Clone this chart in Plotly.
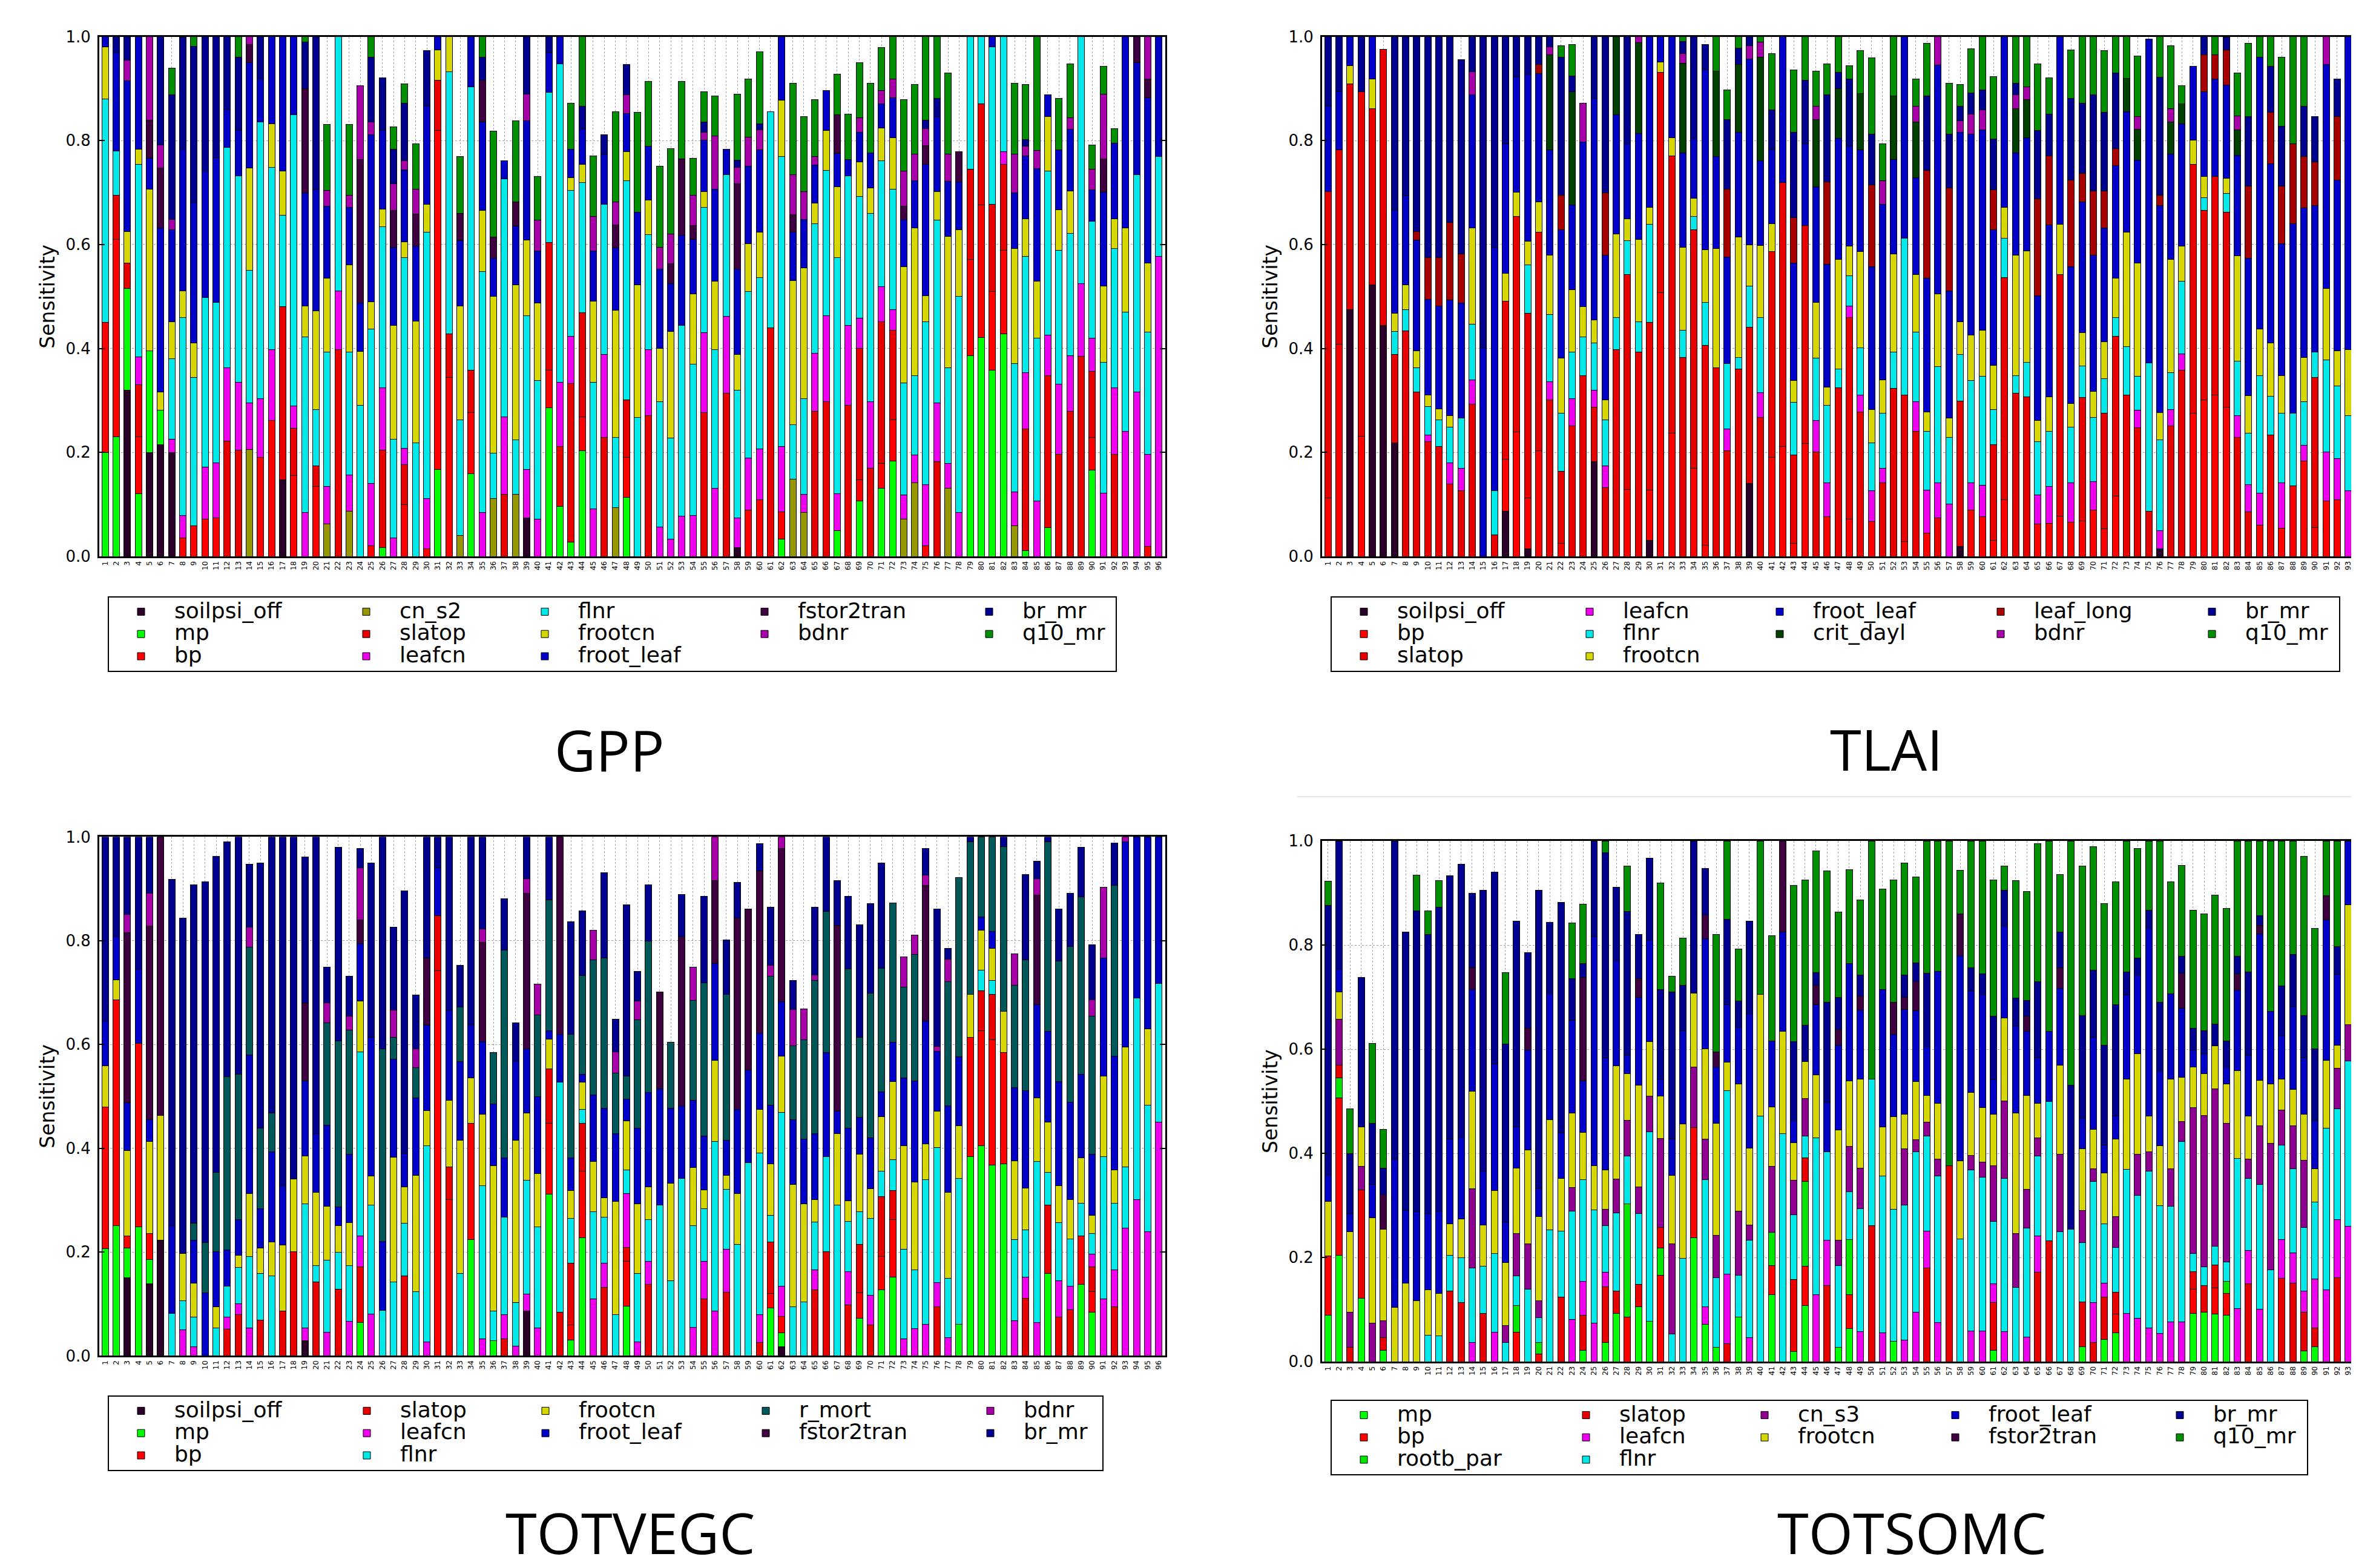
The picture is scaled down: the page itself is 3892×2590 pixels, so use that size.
import plotly.graph_objects as go

W, H = 3892, 2590
FONT = "DejaVu Sans"

SITES_LEFT = list(range(1, 97))
SITES_RIGHT = list(range(1, 95))

# ---------------- GPP (sites 1-96) ----------------
gpp_soilpsi_off = [
    0, 0, .32, 0, .20, .215, .20, 0, 0, 0, 0, 0,
    0, 0, 0, 0, .147, 0, 0, 0, 0, 0, 0, 0,
    0, 0, 0, 0, 0, 0, 0, 0, 0, 0, 0, 0,
    0, 0, .074, 0, 0, 0, 0, 0, 0, 0, 0, 0,
    0, 0, 0, 0, 0, 0, 0, 0, 0, .017, 0, 0,
    0, 0, 0, 0, 0, 0, 0, 0, 0, 0, 0, 0,
    0, 0, 0, 0, 0, 0, 0, 0, 0, 0, 0, 0,
    0, 0, 0, 0, 0, 0, 0, 0, 0, 0, 0, 0]
gpp_mp = [
    .20, .23, .195, .12, .196, .066, 0, 0, 0, 0, 0, 0,
    0, 0, 0, 0, 0, 0, 0, 0, 0, 0, 0, 0,
    0, .017, 0, 0, 0, 0, .167, 0, 0, .159, 0, 0,
    0, 0, 0, 0, .286, .096, .027, .203, 0, 0, 0, .114,
    0, 0, 0, 0, 0, 0, 0, 0, 0, 0, 0, 0,
    0, .033, 0, 0, 0, 0, .049, 0, .107, 0, .131, .184,
    0, 0, 0, 0, 0, 0, .386, .421, .358, .428, 0, .011,
    0, .055, 0, 0, 0, .166, 0, 0, 0, 0, 0, 0]
gpp_bp = [
    .25, .38, 0, .11, 0, 0, 0, .035, .059, .072, .074, 0,
    0, 0, .19, .261, 0, .156, 0, .134, 0, 0, 0, 0,
    .02, 0, 0, .10, 0, .015, .652, .344, 0, .118, 0, 0,
    0, 0, 0, 0, .072, 0, 0, .066, 0, 0, 0, .076,
    0, 0, 0, 0, 0, 0, 0, 0, 0, 0, .089, .109,
    0, .053, 0, 0, 0, 0, 0, 0, .04, 0, .048, .079,
    0, 0, .02, 0, 0, 0, .186, .255, .152, .161, 0, 0,
    0, 0, 0, 0, 0, .063, 0, 0, 0, 0, .019, 0]
gpp_cn_s2 = [
    0, 0, 0, 0, 0, 0, 0, 0, 0, 0, 0, 0,
    0, .206, 0, 0, 0, 0, 0, 0, .062, 0, .087, 0,
    0, 0, 0, 0, 0, 0, 0, 0, .04, 0, 0, .111,
    0, .119, 0, 0, 0, 0, 0, 0, 0, 0, .094, 0,
    0, 0, 0, 0, 0, 0, 0, 0, 0, 0, 0, 0,
    0, 0, .149, .084, 0, 0, 0, 0, 0, 0, 0, 0,
    .072, .142, 0, 0, .131, 0, 0, 0, 0, 0, .059, 0,
    0, 0, 0, 0, 0, 0, 0, 0, 0, 0, 0, 0]
gpp_slatop = [
    0, .085, .05, .10, 0, 0, 0, 0, 0, 0, 0, .222,
    .204, 0, 0, 0, .334, .09, 0, .04, 0, .398, 0, 0,
    0, .187, 0, .077, 0, 0, .097, .084, 0, .081, 0, 0,
    .119, 0, 0, 0, .246, .115, .306, .20, 0, .229, 0, .111,
    0, .271, 0, 0, 0, 0, .277, 0, .314, 0, 0, 0,
    .44, 0, 0, 0, .279, .298, 0, .291, .253, .17, .273, .172,
    0, 0, 0, .182, 0, 0, .173, .195, .167, .165, 0, .234,
    0, .293, .196, .279, .385, .127, 0, .196, 0, 0, 0, 0]
gpp_leafcn = [
    0, 0, 0, .054, 0, 0, .026, .044, 0, .10, .106, .141,
    .131, .089, .114, .137, 0, .043, .084, 0, .072, .113, .07, 0,
    .12, .121, .035, .031, 0, .096, 0, 0, 0, 0, .084, 0,
    .15, 0, .093, .072, 0, .124, .091, 0, .092, .159, 0, 0,
    0, .127, .057, .033, .077, .079, .153, .131, .148, .057, .10, .098,
    0, .125, 0, .035, .112, .165, .071, .154, .058, .128, .067, .04,
    .046, .053, .118, .113, .048, .084, 0, 0, 0, .025, .065, .108,
    .107, .078, .136, .107, .14, .064, .122, .128, .241, .316, .177, .577]
gpp_flnr = [
    .43, .085, 0, .37, 0, 0, .154, .38, .285, .326, .309, .424,
    .397, .255, .532, .351, .175, .561, .338, .109, .259, .489, .236, .291,
    .297, .309, .191, .367, .219, .513, 0, .505, .223, .546, .464, .088,
    .457, .105, .296, .266, .289, .613, .28, .25, .243, .29, .135, .422,
    .267, .221, .241, .195, .368, .291, .242, .267, .272, .246, .321, .33,
    .416, .558, .104, .184, .249, .28, .455, .287, .234, .362, .242, .232,
    .216, .153, .314, .352, .184, .416, .255, .129, .303, .221, .247, .224,
    .313, .316, .257, .236, .475, .225, .251, .268, .229, .418, .236, .192]
gpp_frootcn = [
    .10, 0, .06, .03, .31, .035, .072, .052, .067, 0, 0, 0,
    0, .197, 0, .083, .085, 0, .06, .189, .142, 0, .168, .103,
    .053, .034, .219, .03, .234, .053, .059, .067, .219, 0, .118, .301,
    0, .299, .146, .149, 0, 0, .025, .035, .156, 0, .244, .056,
    .255, .067, .102, .205, 0, .135, .03, .132, 0, .068, .092, .087,
    0, .109, .278, .252, .04, .077, .136, 0, .067, .049, .063, .099,
    .224, .284, .049, .055, .253, .128, 0, 0, 0, 0, .221, .073,
    .109, .104, .078, .081, 0, 0, .147, .058, .162, 0, .132, 0]
gpp_froot_leaf = [
    .02, .19, .29, .217, .06, .316, .176, .272, .27, .243, .278, .073,
    .088, .203, .082, .168, .259, .15, .217, .235, .139, 0, .111, .094,
    .321, .151, .15, .139, .144, .189, .025, 0, .126, .096, .17, .074,
    .035, .113, .229, .101, .076, .052, .055, .068, .097, .095, .121, .073,
    .14, .103, .153, .092, .173, .105, .099, .177, .05, .165, .149, .158,
    0, .122, .093, .093, .073, .076, .064, .032, .057, .068, .047, .077,
    .09, .091, .253, .144, .106, .093, 0, 0, .02, 0, .107, .121,
    .217, .042, .115, .119, 0, .06, .181, .145, .368, .216, .318, .231]
gpp_fstor2tran = [
    0, 0, 0, 0, .073, .115, 0, 0, 0, 0, 0, 0,
    0, .035, 0, 0, 0, 0, .201, 0, 0, 0, 0, .276,
    0, 0, .071, 0, .062, 0, 0, 0, .052, 0, .08, .04,
    0, .046, 0, 0, 0, 0, 0, 0, 0, 0, .044, 0,
    0, 0, 0, .038, .147, .027, 0, 0, 0, .164, 0, 0,
    0, 0, .034, 0, 0, 0, .075, 0, 0, 0, 0, 0,
    .026, 0, .037, 0, 0, .058, 0, 0, 0, 0, 0, 0,
    0, 0, 0, 0, 0, 0, .064, 0, 0, .05, .036, 0]
gpp_bdnr = [
    0, 0, .04, 0, .164, .045, .02, 0, 0, 0, 0, 0,
    0, .015, 0, 0, 0, 0, 0, 0, .03, 0, .023, .142,
    .025, 0, .051, .017, .048, 0, 0, 0, 0, 0, 0, 0,
    0, 0, .051, .059, 0, 0, 0, 0, .066, 0, .044, .036,
    0, 0, .042, .057, 0, .058, .015, .102, 0, .032, .056, .039,
    0, 0, .077, .054, .016, 0, 0, 0, .028, 0, .025, .035,
    .067, .051, .032, 0, .052, 0, 0, 0, 0, 0, .075, .018,
    .035, 0, 0, .022, 0, .04, .124, 0, 0, 0, .082, 0]
gpp_br_mr = [
    0, .03, .045, 0, 0, .208, .24, .216, .30, .26, .233, .14,
    .141, 0, .082, 0, 0, 0, .09, .293, 0, 0, 0, 0,
    .124, .102, .067, .111, 0, .107, 0, 0, 0, 0, .045, 0,
    0, 0, .111, 0, .031, 0, 0, .044, 0, .038, 0, .059,
    0, 0, 0, 0, 0, 0, .02, 0, 0, .014, 0, .011,
    0, 0, 0, 0, 0, 0, 0, 0, 0, 0, 0, 0,
    0, 0, .016, .035, 0, 0, 0, 0, 0, 0, 0, .013,
    0, 0, 0, 0, 0, 0, 0, 0, 0, 0, 0, 0]
gpp_q10_mr = [
    0, 0, 0, 0, 0, 0, .052, 0, .02, 0, 0, 0,
    .039, 0, 0, 0, 0, 0, .01, 0, .127, 0, .136, 0,
    .04, 0, .042, .037, .087, 0, 0, 0, .109, 0, .039, .204,
    0, .156, 0, .084, 0, 0, .088, .134, .117, 0, .174, 0,
    .192, .125, .156, .165, .149, .071, .058, .077, 0, .127, .111, .139,
    0, 0, .175, .144, .11, 0, .078, .087, .106, .133, .083, .082,
    .138, .134, .161, .119, .156, 0, 0, 0, 0, 0, .137, .106,
    .219, 0, .099, .104, 0, .047, .054, .028, 0, 0, 0, 0]

# ---------------- TLAI (sites 1-94 visible) ----------------
tlai_soilpsi_off = [
    0, 0, .475, 0, .523, .445, .219, 0, 0, 0, 0, 0,
    0, 0, 0, 0, .087, 0, .015, 0, 0, 0, 0, 0,
    .182, 0, 0, 0, 0, .031, 0, 0, 0, 0, 0, 0,
    0, 0, .14, 0, 0, 0, 0, 0, 0, 0, 0, 0,
    0, 0, 0, 0, 0, 0, 0, 0, 0, .019, 0, 0,
    0, 0, 0, 0, 0, 0, 0, 0, 0, 0, 0, 0,
    0, 0, 0, .015, 0, 0, 0, 0, 0, 0, 0, 0,
    0, 0, 0, 0, 0, 0, 0, 0, 0, 0]
tlai_bp = [
    .112, .408, 0, .231, 0, 0, 0, 0, 0, 0, 0, 0,
    0, 0, 0, 0, .10, .239, .097, .203, 0, .025, 0, 0,
    0, 0, 0, .129, 0, .096, .507, .237, 0, .169, .022, 0,
    0, 0, 0, 0, .191, .211, .025, .217, 0, .076, 0, .072,
    0, .067, 0, 0, .029, 0, .045, 0, 0, 0, .089, .076,
    .031, .109, 0, 0, .062, .064, .078, .066, .068, .089, .053, .116,
    0, 0, 0, 0, 0, 0, .276, .301, .311, .287, 0, 0,
    .06, 0, .054, .136, .184, .055, .107, .109, 0, .05]
tlai_slatop = [
    .59, .374, .434, .663, .338, .531, .169, .434, .316, .221, .211, .139,
    .126, .293, 0, .041, .304, .415, .356, .421, .301, .139, .251, .348,
    .105, .132, .398, .413, .393, .323, .424, .534, .383, .46, .384, .363,
    .203, .36, .301, .267, .396, .508, .17, .42, .201, 0, .324, .387,
    .278, 0, .142, .323, .281, .241, 0, .074, 0, .28, 0, 0,
    .184, .428, .314, .307, 0, 0, .464, 0, .238, 0, .222, .308,
    .31, .248, .087, 0, .251, .358, .478, .365, .42, .375, .229, .086,
    0, .233, 0, 0, 0, .289, 0, 0, 0, 0]
tlai_leafcn = [
    0, 0, 0, 0, 0, 0, 0, 0, 0, .012, 0, .041,
    .043, .047, 0, 0, 0, 0, 0, 0, .035, 0, .052, 0,
    .033, .042, 0, 0, 0, 0, 0, 0, 0, 0, 0, 0,
    .042, 0, 0, .048, 0, 0, 0, 0, .06, .066, 0, .023,
    .033, .059, .027, 0, 0, .057, .082, .068, .101, 0, .052, .061,
    0, 0, 0, 0, .056, .07, 0, .076, 0, .055, 0, 0,
    0, .033, 0, .035, .032, .032, 0, 0, 0, 0, .042, .052,
    .062, 0, .087, 0, .03, 0, .094, .079, .126, .271]
tlai_flnr = [
    0, 0, 0, 0, 0, 0, .045, .041, .047, .055, .052, .069,
    .097, .107, 0, .085, 0, 0, .093, 0, .129, .111, .09, .074,
    .091, .089, .061, .066, .058, .189, 0, 0, .052, .025, .083, 0,
    .126, .023, .079, .145, 0, 0, .102, 0, .12, .149, .036, .058,
    .09, .092, .107, .07, .302, .134, .114, .223, .128, .089, .197, .209,
    .068, .075, .034, .066, .103, .107, 0, .107, .06, .123, .067, .036,
    .094, .065, .285, .174, .07, .139, 0, .024, 0, .036, .105, .099,
    .226, .075, .135, .14, .084, .049, .177, .14, .145, .354]
tlai_frootcn = [
    0, 0, .035, 0, .058, 0, .035, .047, .033, .023, .021, .022,
    0, .185, 0, 0, .054, .047, .045, .058, .114, .107, .12, .058,
    .044, .038, .161, .042, .159, .033, .02, .034, .16, .035, .101, .229,
    0, .231, .079, .138, .053, 0, .041, 0, .108, .035, .212, .057,
    .186, .065, .064, .189, 0, .11, .037, .14, .037, .063, .088, .089,
    .085, .06, .232, .215, .04, .066, .097, .045, .065, .051, .071, .075,
    .22, .219, 0, .053, .219, .068, .047, .041, 0, .03, .202, .072,
    .089, .103, .072, 0, .085, 0, .137, .068, .127, 0]
tlai_froot_leaf = [
    .164, .112, .056, 0, .081, 0, .199, .172, .213, .184, .198, .222,
    .222, .256, .401, .469, .249, .221, .322, .247, .203, .246, .163, .317,
    .426, .278, .23, .144, .204, .328, .049, .195, .182, .115, .346, .177,
    .205, .202, .358, .163, .142, .281, .227, .157, .222, .236, .232, .192,
    .195, .274, .338, .182, .388, .187, .257, .44, .245, .365, .386, .386,
    .261, .328, .197, .217, .24, .331, .361, .263, .251, .261, .219, .217,
    .232, .198, .623, .398, .202, .235, .142, .163, .187, .179, .194, .265,
    .524, .345, .254, .364, .287, .282, .431, .328, .602, .325]
tlai_crit_dayl = [
    0, 0, 0, 0, 0, 0, 0, 0, 0, 0, 0, 0,
    0, 0, 0, 0, 0, 0, 0, 0, .183, 0, .218, 0,
    0, 0, .15, 0, .175, 0, 0, 0, .172, 0, 0, .165,
    0, .13, 0, .2, 0, 0, 0, 0, .13, 0, .096, 0,
    .109, 0, 0, .122, 0, .107, 0, 0, 0, 0, 0, 0,
    0, 0, .085, .074, 0, 0, 0, 0, 0, 0, 0, 0,
    .064, .059, 0, 0, .062, .039, 0, 0, 0, 0, .049, 0,
    0, 0, 0, 0, 0, 0, 0, 0, 0, 0]
tlai_leaf_long = [
    0, 0, 0, 0, 0, 0, 0, 0, .016, .08, .093, .149,
    .094, 0, 0, 0, 0, 0, 0, .017, 0, .067, 0, 0,
    0, .12, 0, 0, 0, 0, 0, 0, 0, 0, 0, 0,
    .13, 0, 0, 0, 0, 0, .087, 0, 0, .159, 0, 0,
    0, .158, 0, 0, 0, 0, .208, 0, .198, 0, 0, 0,
    .076, 0, 0, 0, .187, .133, 0, .167, .055, .124, .071, .033,
    0, 0, 0, .02, 0, 0, 0, .071, .047, .068, 0, .138,
    0, .098, .11, .154, .099, .084, 0, .122, 0, 0]
tlai_bdnr = [
    0, 0, 0, 0, 0, 0, 0, 0, 0, 0, 0, 0,
    0, .045, 0, 0, 0, 0, 0, 0, .015, 0, 0, .075,
    0, 0, 0, 0, .011, 0, 0, 0, .018, 0, 0, 0,
    0, 0, .026, .029, 0, 0, 0, 0, .025, 0, 0, 0,
    0, 0, .045, 0, 0, .03, 0, .055, 0, .022, .039, .038,
    0, 0, .026, .025, 0, 0, 0, 0, 0, 0, 0, 0,
    0, .024, 0, 0, .026, 0, 0, 0, 0, 0, .027, 0,
    0, 0, 0, 0, 0, 0, .054, 0, 0, 0]
tlai_br_mr = [
    .134, .106, 0, .106, 0, 0, .333, .306, .375, .425, .425, .358,
    .374, .067, .599, .405, .206, .078, .072, .054, .02, .265, .03, 0,
    .119, .301, 0, .206, 0, 0, 0, 0, .024, .196, .049, 0,
    .135, .032, .017, 0, .077, 0, .164, .122, 0, .167, .031, .129,
    0, .097, 0, 0, 0, 0, .143, 0, .104, .028, .041, .039,
    .098, 0, .022, 0, .132, .08, 0, .157, .135, .185, .151, .145,
    0, 0, 0, .227, 0, 0, 0, .035, 0, .024, 0, .134,
    0, .089, .116, 0, .097, .087, 0, .072, 0, 0]
tlai_q10_mr = [
    0, 0, 0, 0, 0, 0, 0, 0, 0, 0, 0, 0,
    0, 0, 0, 0, 0, 0, 0, 0, 0, .023, .061, 0,
    0, 0, 0, 0, 0, 0, 0, 0, .009, 0, 0, .066,
    .057, .022, 0, .01, .108, 0, .12, .084, .068, .06, .069, .026,
    .082, .147, .071, .114, 0, .052, .101, 0, .097, .042, .085, .102,
    .12, 0, .09, .096, .128, .07, 0, .094, .128, .112, .119, .07,
    .08, .117, 0, .078, .121, .035, 0, 0, .035, 0, .082, .141,
    .039, .057, .133, .206, .134, 0, 0, 0, 0, 0]

# ---------------- TOTVEGC (sites 1-96) ----------------
tv_soilpsi_off = [
    0, 0, .15, 0, .139, .223, 0, 0, 0, 0, 0, 0,
    0, 0, 0, 0, 0, 0, .029, 0, 0, 0, 0, 0,
    0, 0, 0, 0, 0, 0, 0, 0, 0, 0, 0, 0,
    0, 0, .086, 0, 0, 0, 0, 0, 0, 0, 0, 0,
    0, 0, 0, 0, 0, 0, 0, 0, 0, 0, 0, 0,
    0, .017, 0, 0, 0, 0, 0, 0, 0, 0, 0, 0,
    0, 0, 0, 0, 0, 0, 0, 0, 0, 0, 0, 0,
    0, 0, 0, 0, 0, 0, 0, 0, 0, 0, 0, 0]
tv_mp = [
    .206, .251, .058, .249, .047, 0, 0, 0, 0, 0, 0, 0,
    0, 0, 0, 0, 0, 0, 0, 0, 0, 0, 0, .064,
    0, 0, 0, 0, 0, 0, 0, 0, 0, .224, 0, .029,
    0, 0, 0, 0, .311, 0, .03, .227, 0, 0, 0, .096,
    0, 0, 0, 0, 0, 0, 0, 0, 0, 0, 0, 0,
    .092, .027, 0, 0, 0, 0, 0, 0, .072, 0, .127, .151,
    0, 0, 0, 0, 0, .06, .384, .405, .368, .37, 0, 0,
    0, .158, 0, 0, .138, .084, 0, 0, 0, 0, 0, 0]
tv_bp = [
    .274, .435, .023, .353, .05, 0, 0, 0, 0, 0, 0, 0,
    0, 0, 0, 0, 0, 0, 0, 0, 0, 0, 0, 0,
    0, 0, 0, 0, 0, 0, .742, .301, 0, .224, 0, 0,
    0, 0, 0, 0, .137, 0, .029, .129, 0, 0, 0, .086,
    0, 0, 0, 0, 0, 0, 0, 0, 0, 0, 0, 0,
    .028, .032, 0, 0, 0, 0, 0, 0, .049, 0, .064, .112,
    0, 0, 0, 0, 0, 0, .23, .221, .241, .214, 0, 0,
    0, 0, 0, 0, .093, .04, 0, 0, 0, 0, 0, 0]
tv_slatop = [
    0, 0, 0, 0, 0, 0, 0, 0, 0, 0, 0, .051,
    .079, 0, .069, 0, .086, .201, 0, .142, 0, .128, 0, .107,
    0, 0, 0, .154, 0, 0, .106, .063, 0, 0, 0, 0,
    .032, 0, 0, 0, .105, .084, .12, .092, 0, .132, 0, .027,
    0, .137, 0, 0, 0, 0, .109, 0, .122, 0, 0, .025,
    .099, 0, 0, 0, .127, .201, 0, .098, .094, .059, .116, .055,
    0, 0, 0, .094, 0, 0, 0, .078, .087, 0, 0, .111,
    0, .133, .074, .089, 0, .047, 0, .094, 0, 0, 0, 0]
tv_leafcn = [
    0, 0, 0, 0, 0, 0, 0, .05, .017, 0, 0, .023,
    .021, .053, 0, 0, 0, 0, .025, 0, .045, 0, .066, .06,
    .08, 0, 0, 0, 0, .027, 0, 0, 0, 0, .032, 0,
    .047, .019, .033, .054, 0, 0, 0, 0, .109, .047, 0, .104,
    .027, .045, 0, 0, 0, .055, .073, .086, .083, 0, 0, .054,
    0, .058, 0, 0, .039, 0, 0, .064, 0, .057, 0, 0,
    .032, .052, .06, .047, .035, 0, 0, 0, 0, 0, .067, .041,
    .064, 0, .07, .045, 0, .025, .109, .072, .246, .301, .239, .45]
tv_flnr = [
    0, 0, 0, 0, 0, 0, .081, .056, .057, 0, .053, .06,
    .07, .138, .09, .154, 0, 0, .239, .032, .139, .071, .108, .355,
    .211, .087, .142, .101, .124, .378, 0, 0, .159, 0, .296, .057,
    .188, .083, .219, .195, 0, .443, .086, .027, .169, .088, .079, .045,
    .132, .081, .291, .144, .342, .196, .102, .327, .116, .215, .372, .312,
    .052, .335, .094, .104, .092, .183, .291, .097, .063, .149, .049, .06,
    .173, .114, .28, .26, .114, .282, 0, .039, .027, 0, .157, .091,
    .311, .062, .113, .091, .063, .04, .275, .128, .118, .388, .244, .267]
tv_frootcn = [
    .079, .038, .165, 0, .177, .24, 0, .091, .066, 0, .041, 0,
    .024, .122, .049, .065, .127, .14, .092, .141, .104, .052, .083, .098,
    .055, 0, .241, .071, .224, .067, 0, .128, .256, .087, .137, .28,
    0, .313, .13, .102, .057, 0, .053, .052, .097, .038, .219, .095,
    .134, .062, 0, .189, 0, .112, .036, .156, .027, .098, 0, .084,
    .099, .108, .236, .189, .043, 0, .137, .04, .11, .057, .105, .151,
    .2, .169, .068, .07, .166, .101, .083, .077, .062, .08, .152, .08,
    .122, .097, .071, .076, .087, .035, .155, .064, .231, 0, .147, 0]
tv_froot_leaf = [
    .086, .085, .092, .143, .042, 0, .17, 0, .083, .121, .107, .07,
    .069, .267, .076, .174, .115, 0, .145, .113, .157, .036, .131, .11,
    .268, .134, .189, .064, .149, .165, .092, .174, .152, .103, .141, .119,
    .115, .153, .124, .148, .017, .093, .063, .016, .128, .172, .13, .042,
    .146, .182, .224, .144, .14, .129, .103, .187, .067, .162, .179, .147,
    .113, .105, .125, .125, .127, .2, .043, .14, .072, .098, .048, .075,
    .13, .195, .237, .116, .167, .133, 0, .026, .033, 0, .141, .188,
    .18, .175, .2, .188, .161, .117, .228, .22, .396, .311, .37, .283]
tv_r_mort = [
    0, 0, 0, 0, 0, 0, 0, 0, .032, .097, .152, .334,
    .28, .207, .155, .075, 0, 0, 0, 0, .197, .32, .24, 0,
    0, .371, .042, 0, .058, 0, 0, 0, .105, 0, 0, .099,
    .4, 0, 0, .158, .252, 0, .239, .19, .26, .29, .117, .044,
    .208, .292, 0, .127, 0, .193, .296, 0, .282, 0, 0, 0,
    .248, 0, .142, .191, .295, .272, 0, .307, .154, .279, .238, .269,
    .176, .243, 0, 0, .239, .346, .294, .154, .182, .317, .197, .252,
    0, .366, .233, .3, .342, .266, 0, .328, 0, 0, 0, 0]
tv_fstor2tran = [
    0, 0, .328, 0, .373, .537, 0, 0, 0, 0, 0, 0,
    0, 0, 0, 0, 0, 0, .15, 0, 0, 0, 0, .046,
    0, 0, 0, 0, 0, .13, 0, 0, 0, 0, .191, 0,
    0, 0, .299, 0, 0, .38, 0, 0, 0, 0, 0, 0,
    0, 0, .186, 0, .325, 0, 0, .16, 0, .368, .31, .312,
    0, .296, 0, 0, 0, 0, .359, 0, 0, 0, 0, 0,
    0, 0, .261, 0, 0, 0, 0, 0, 0, 0, 0, 0,
    .211, 0, 0, 0, 0, 0, 0, 0, 0, 0, 0, 0]
tv_bdnr = [
    0, 0, .034, 0, .063, 0, 0, 0, 0, 0, 0, 0,
    0, .039, 0, 0, 0, 0, 0, 0, .038, 0, .026, .1,
    0, 0, .052, 0, .037, 0, 0, 0, 0, 0, .026, 0,
    0, 0, .028, .059, 0, 0, 0, 0, .057, 0, .041, 0,
    .037, 0, 0, 0, 0, .064, 0, .084, 0, 0, 0, 0,
    .022, .022, .07, .059, .011, 0, 0, 0, 0, 0, 0, 0,
    .058, .038, .02, .009, .043, 0, 0, 0, 0, 0, .061, 0,
    .031, 0, 0, 0, 0, .032, .136, 0, .009, 0, 0, 0]
tv_br_mr = [
    .355, .191, .15, .255, .109, 0, .667, .646, .653, .695, .61, .452,
    .457, .121, .511, .532, .672, .659, .281, .572, .069, .373, .077, .038,
    .336, .408, .16, .506, .103, .233, .06, .334, .08, .362, .177, 0,
    .099, .074, .081, 0, .121, 0, .216, .125, 0, .164, .063, .33,
    .057, .109, 0, 0, .082, 0, .167, 0, .105, .069, 0, .053,
    .111, 0, .056, 0, .13, .144, .086, .14, .217, .172, .203, 0,
    0, 0, .052, .265, .021, 0, .009, 0, 0, .019, 0, .165,
    .034, .009, .1, .102, .096, .106, 0, .082, 0, 0, 0, 0]

# ---------------- TOTSOMC (sites 1-94 visible) ----------------
ts_mp = [
    .089, .204, 0, .122, 0, .022, 0, 0, 0, 0, 0, 0,
    0, 0, 0, 0, 0, 0, 0, 0, 0, 0, 0, .021,
    0, .037, .092, 0, .105, .077, 0, 0, 0, .238, .072, .027,
    0, .085, 0, 0, .128, 0, .019, .107, 0, 0, .027, .063,
    0, 0, 0, .039, 0, 0, 0, 0, 0, 0, 0, 0,
    .022, 0, 0, 0, 0, 0, 0, 0, .029, 0, .043, .055,
    0, 0, 0, 0, 0, 0, .092, .095, .091, .089, 0, 0,
    0, 0, 0, 0, .02, .029, 0, 0, 0, 0]
ts_bp = [
    .114, .302, 0, 0, 0, 0, 0, 0, 0, 0, 0, 0,
    0, 0, 0, 0, 0, .056, 0, .015, 0, 0, 0, 0,
    0, 0, 0, .085, 0, 0, .166, 0, 0, .212, 0, 0,
    0, 0, 0, 0, .056, 0, 0, .076, 0, 0, 0, .066,
    0, 0, 0, 0, 0, 0, 0, 0, 0, 0, 0, 0,
    0, 0, 0, 0, 0, 0, 0, 0, 0, 0, 0, .036,
    0, 0, 0, 0, 0, 0, .047, 0, .05, .042, 0, 0,
    0, 0, 0, 0, 0, 0, 0, 0, 0, 0]
ts_rootb_par = [
    0, .039, 0, 0, 0, 0, 0, 0, 0, 0, 0, 0,
    0, 0, 0, 0, 0, .051, 0, .022, 0, 0, 0, 0,
    0, 0, 0, .218, 0, 0, .052, 0, 0, 0, 0, 0,
    0, 0, 0, 0, .064, 0, 0, .163, 0, 0, 0, .105,
    0, 0, 0, 0, 0, 0, 0, 0, 0, 0, 0, 0,
    0, 0, 0, 0, 0, 0, 0, 0, 0, 0, 0, 0,
    0, 0, 0, 0, 0, 0, 0, 0, 0, .023, 0, 0,
    0, 0, 0, 0, 0, 0, 0, 0, 0, 0]
ts_slatop = [
    0, .024, .027, .208, 0, .024, 0, 0, 0, 0, 0, .136,
    .113, 0, .093, 0, 0, 0, 0, 0, 0, .124, 0, .068,
    0, .107, .044, 0, .043, 0, .04, 0, 0, 0, 0, 0,
    .034, 0, 0, 0, 0, 0, .139, .045, 0, .146, 0, 0,
    0, .261, 0, 0, 0, 0, .18, 0, .376, 0, 0, 0,
    .091, 0, 0, 0, .172, .232, 0, 0, .085, .037, .081, .042,
    0, 0, 0, 0, 0, 0, .034, .051, .045, 0, 0, .149,
    0, 0, .16, .151, .075, .036, 0, .161, 0, 0]
ts_leafcn = [
    0, 0, 0, 0, 0, 0, 0, 0, 0, 0, 0, 0,
    0, .037, 0, .056, 0, 0, 0, 0, 0, 0, .081, .065,
    .074, .028, 0, 0, 0, 0, 0, 0, 0, 0, .033, 0,
    .134, 0, .046, 0, 0, 0, 0, 0, .128, .087, 0, 0,
    .057, 0, .055, 0, .041, .095, .071, .075, 0, 0, .059, .059,
    .037, .057, 0, .047, .069, 0, 0, 0, 0, .076, .027, 0,
    .093, .083, .065, .054, .076, .076, 0, 0, 0, 0, .102, .064,
    .101, 0, .074, .058, .041, .094, .138, .112, .26, .334]
ts_flnr = [
    0, 0, 0, 0, 0, 0, 0, 0, 0, .051, .049, .068,
    .086, .143, .09, .152, .037, .057, .139, .047, .253, .127, .208, .195,
    .217, .089, .15, .092, .136, .364, 0, .053, .198, 0, .244, .134,
    .352, .081, .187, .471, 0, .438, .124, .042, .302, .17, .157, .092,
    .237, .282, .301, .253, .26, .308, .182, .281, 0, .236, .309, .295,
    .119, .295, .142, .209, .154, .267, .249, .254, .114, .233, .113, .086,
    .276, .236, .301, .246, .222, .347, .035, .036, .036, .037, .288, .139,
    .239, .176, .182, .161, .122, .147, .31, .213, .317, .414]
ts_cn_s3 = [
    0, .089, .068, .045, .074, .033, 0, 0, 0, 0, 0, 0,
    0, .152, 0, 0, .032, .082, .087, .033, 0, 0, .045, 0,
    0, .031, .065, .068, .052, .069, .171, .173, 0, .116, .078, .082,
    0, .123, .029, 0, .127, 0, .066, .072, 0, 0, .049, .087,
    .077, 0, 0, 0, .108, .023, .027, .033, 0, 0, .028, .029,
    .107, .149, .104, .075, .035, 0, .149, 0, .062, .024, 0, .059,
    0, .079, .037, 0, .072, .038, .28, .291, .302, .266, 0, .037,
    .113, .243, .067, .083, .129, 0, 0, .077, .07, 0]
ts_frootcn = [
    .105, .052, .155, .076, .202, .175, .104, .151, .117, .087, .082, .06,
    .075, .187, .079, .121, .121, .126, .18, .161, .212, .101, .143, .091,
    .085, .076, .217, .09, .195, .105, .081, .132, .258, .141, .174, .215,
    .055, .244, .148, .234, .114, .196, .072, .071, .121, 0, .212, .126,
    .172, 0, .095, .178, .066, .112, .051, .107, 0, .15, .121, .105,
    .099, .159, .231, .18, .066, 0, .171, 0, .119, .076, .098, .149,
    .174, .193, .068, .115, .173, .085, .078, .08, .082, .076, .169, .082,
    .087, .114, .059, .07, .088, .064, .13, .045, .23, 0]
ts_froot_leaf = [
    .051, .044, .034, 0, .064, 0, .285, .139, .171, .146, .158, .163,
    .157, .196, .104, .242, .078, .079, .192, .054, .241, .087, .178, .099,
    .44, .215, .202, .035, .169, .195, .033, .069, .179, 0, .211, .108,
    .11, .109, .258, 0, .127, .191, .043, 0, .135, .095, .162, .226,
    .132, 0, .263, .158, .201, .136, .094, .254, 0, .394, .195, .217,
    .066, .177, .168, .123, .087, .135, .148, 0, .058, .177, .054, .044,
    .161, .152, .362, .143, .163, .132, .032, .038, 0, .033, .154, .117,
    .282, .14, .084, .159, .108, .093, .27, .136, .122, .251]
ts_fstor2tran = [
    0, 0, 0, 0, 0, .066, 0, 0, 0, 0, 0, 0,
    0, .041, 0, 0, 0, 0, .042, 0, 0, 0, 0, .199,
    0, 0, 0, 0, .035, 0, 0, 0, 0, 0, .046, .029,
    0, 0, 0, 0, 0, .174, 0, 0, .037, 0, .031, 0,
    .027, 0, 0, .062, .024, .056, 0, 0, 0, .08, 0, 0,
    0, 0, 0, .029, 0, 0, .039, 0, 0, 0, 0, 0,
    0, 0, 0, 0, 0, .068, 0, 0, 0, 0, .032, 0,
    .016, 0, 0, 0, 0, 0, .047, 0, 0, 0]
ts_br_mr = [
    .517, .245, .115, .287, .117, .052, .61, .535, .578, .536, .584, .506,
    .524, .144, .539, .369, .342, .395, .146, .573, .138, .443, .081, .026,
    .183, .394, .141, .277, .085, .157, .171, .283, .088, .292, .089, 0,
    .165, .051, .178, 0, 0, 0, .152, .07, .024, .192, .062, 0,
    .04, 0, 0, 0, .043, .036, .141, 0, 0, 0, .044, .04,
    .122, .068, .053, .031, .147, 0, .069, .277, .197, .129, .191, .215,
    .044, .032, .034, .132, 0, .032, .042, .044, .042, .05, .033, .16,
    .018, 0, .096, .1, .082, .138, 0, .053, 0, 0]
ts_q10_mr = [
    .047, 0, .087, 0, .154, .074, 0, 0, .068, .046, .051, 0,
    0, 0, 0, 0, .137, 0, 0, 0, 0, 0, .106, .115,
    0, .022, 0, .087, 0, 0, .205, .03, .09, 0, 0, .225,
    .149, .1, 0, .294, .202, 0, .299, .279, .234, .252, .163, .18,
    .145, .456, .193, .235, .214, .165, .253, .249, .623, .084, .243, .254,
    .262, .047, .226, .209, .265, .365, .11, .468, .288, .237, .273, .235,
    .251, .21, .132, .309, .216, .175, .227, .225, .248, .254, .221, .251,
    .143, .326, .277, .217, .305, .231, .104, .202, 0, 0]

Y_TICKS = [0.0, 0.2, 0.4, 0.6, 0.8, 1.0]
Y_TICK_LABELS = ["0.0", "0.2", "0.4", "0.6", "0.8", "1.0"]

COLORS = {
    "soilpsi_off": "#2a0028",
    "mp": "#00ff00",
    "bp": "#ff0000",
    "cn_s2": "#969600",
    "slatop": "#e60000",
    "leafcn": "#ee00ee",
    "flnr": "#00e8e8",
    "frootcn": "#d6d600",
    "froot_leaf": "#0000c8",
    "fstor2tran": "#3f003f",
    "bdnr": "#a800a8",
    "br_mr": "#000090",
    "q10_mr": "#008f00",
    "crit_dayl": "#004000",
    "leaf_long": "#a80000",
    "r_mort": "#005858",
    "cn_s3": "#900090",
    "rootb_par": "#00e600",
}

PANELS = [
    dict(name="GPP", sites=SITES_LEFT, legend="legend",
         series=[("soilpsi_off", gpp_soilpsi_off), ("mp", gpp_mp), ("bp", gpp_bp),
                 ("cn_s2", gpp_cn_s2), ("slatop", gpp_slatop), ("leafcn", gpp_leafcn),
                 ("flnr", gpp_flnr), ("frootcn", gpp_frootcn), ("froot_leaf", gpp_froot_leaf),
                 ("fstor2tran", gpp_fstor2tran), ("bdnr", gpp_bdnr),
                 ("br_mr", gpp_br_mr), ("q10_mr", gpp_q10_mr)],
         colw=[257, 180, 248, 256, 149],
         dom_x=(156, 1917), dom_y=(52.6, 911), xr=(0.465, 96.59),
         leg=(170, 977), head=(998, 1230, "middle"), cut=False),
    dict(name="TLAI", sites=SITES_RIGHT, legend="legend2",
         series=[("soilpsi_off", tlai_soilpsi_off), ("bp", tlai_bp), ("slatop", tlai_slatop),
                 ("leafcn", tlai_leafcn), ("flnr", tlai_flnr), ("frootcn", tlai_frootcn),
                 ("froot_leaf", tlai_froot_leaf), ("crit_dayl", tlai_crit_dayl),
                 ("leaf_long", tlai_leaf_long), ("bdnr", tlai_bdnr),
                 ("br_mr", tlai_br_mr), ("q10_mr", tlai_q10_mr)],
         colw=[258, 199, 250, 234, 150],
         dom_x=(2176, 3892), dom_y=(52.6, 911), xr=(0.465, 94.13),
         leg=(2190, 977), head=(3108, 1229, "middle"), cut=True),
    dict(name="TOTVEGC", sites=SITES_LEFT, legend="legend3",
         series=[("soilpsi_off", tv_soilpsi_off), ("mp", tv_mp), ("bp", tv_bp),
                 ("slatop", tv_slatop), ("leafcn", tv_leafcn), ("flnr", tv_flnr),
                 ("frootcn", tv_frootcn), ("froot_leaf", tv_froot_leaf),
                 ("r_mort", tv_r_mort), ("fstor2tran", tv_fstor2tran),
                 ("bdnr", tv_bdnr), ("br_mr", tv_br_mr)],
         colw=[258, 180, 249, 256, 125],
         dom_x=(156, 1917), dom_y=(1374.4, 2231.4), xr=(0.465, 96.59),
         leg=(170, 2297), head=(1033, 2589, "bottom"), cut=False),
    dict(name="TOTSOMC", sites=SITES_RIGHT, legend="legend4",
         series=[("mp", ts_mp), ("bp", ts_bp), ("rootb_par", ts_rootb_par),
                 ("slatop", ts_slatop), ("leafcn", ts_leafcn), ("flnr", ts_flnr),
                 ("cn_s3", ts_cn_s3), ("frootcn", ts_frootcn),
                 ("froot_leaf", ts_froot_leaf), ("fstor2tran", ts_fstor2tran),
                 ("br_mr", ts_br_mr), ("q10_mr", ts_q10_mr)],
         colw=[252, 180, 200, 256, 150],
         dom_x=(2176, 3892), dom_y=(1381, 2241), xr=(0.465, 94.13),
         leg=(2190, 2304), head=(3150, 2589, "bottom"), cut=True),
]

LEGEND_FONT_SIZE = 26      # sets the row pitch
LEGEND_TEXT_SIZE = 36      # visible label size


def fx(px):
    return px / W


def fy(px):
    return 1 - px / H


fig = go.Figure()
layout = dict(
    width=W, height=H, autosize=False,
    margin=dict(l=0, r=0, t=0, b=0, pad=0),
    paper_bgcolor="white", plot_bgcolor="white",
    barmode="stack", showlegend=True,
    font=dict(family=FONT, color="black"),
    annotations=[], shapes=[],
)

for i, p in enumerate(PANELS):
    sfx = "" if i == 0 else str(i + 1)
    n_sites = len(p["sites"])
    n = len(p["series"])
    base, extra = divmod(n, 5)
    sizes = [base + (1 if c < extra else 0) for c in range(5)]
    col_of = []
    for c, s in enumerate(sizes):
        col_of += [c] * s
    for k, (name, vals) in enumerate(p["series"]):
        if len(vals) != n_sites:
            raise ValueError(f"{p['name']} {name}: {len(vals)} values, expected {n_sites}")
        c = col_of[k]
        fig.add_trace(go.Bar(
            x=p["sites"], y=vals,
            name=f'<span style="font-size:{LEGEND_TEXT_SIZE}px">{name}</span>',
            width=0.6,
            marker=dict(color=COLORS[name], line=dict(color="black", width=1)),
            xaxis="x" + sfx, yaxis="y" + sfx,
            legend=p["legend"], legendgroup=f"{p['legend']}_col{c}",
            legendwidth=p["colw"][c], legendrank=100 * c + k,
            hovertemplate=name + " site %{x}: %{y:.3f}<extra></extra>",
        ))

    layout["xaxis" + sfx] = dict(
        domain=[fx(p["dom_x"][0]), fx(p["dom_x"][1])],
        range=list(p["xr"]), anchor="y" + sfx,
        tickmode="array", tickvals=p["sites"], ticktext=[str(s) for s in p["sites"]],
        tickangle=-90, tickfont=dict(family=FONT, size=12, color="black"),
        ticks="", showline=True, linecolor="black", linewidth=3, mirror=True,
        showgrid=True, gridcolor="#a0a0a0", griddash="dot", gridwidth=1,
        zeroline=False, automargin=False, fixedrange=True,
    )
    layout["yaxis" + sfx] = dict(
        domain=[fy(p["dom_y"][1]), fy(p["dom_y"][0])],
        range=[0, 1], anchor="x" + sfx,
        tickmode="array", tickvals=Y_TICKS, ticktext=Y_TICK_LABELS,
        ticks="inside", ticklen=9, tickwidth=1.5, tickcolor="black",
        ticklabelstandoff=6,
        tickfont=dict(family=FONT, size=26, color="black"),
        title=dict(text="Sensitivity", font=dict(family=FONT, size=33, color="black"), standoff=8),
        showline=True, linecolor="black", linewidth=3,
        mirror=(False if p["cut"] else "ticks"),
        showgrid=True, gridcolor="#a0a0a0", griddash="dot", gridwidth=1,
        zeroline=False, automargin=False, fixedrange=True,
    )
    layout[p["legend"]] = dict(
        x=fx(p["leg"][0]), y=fy(p["leg"][1]), xanchor="left", yanchor="top",
        orientation="h", traceorder="grouped", itemwidth=100, tracegroupgap=0,
        font=dict(family=FONT, size=LEGEND_FONT_SIZE, color="black"),
        bgcolor="white", bordercolor="black", borderwidth=2,
        itemclick=False, itemdoubleclick=False,
    )
    hx, hy, hanchor = p["head"]
    layout["annotations"].append(dict(
        text=p["name"], xref="paper", yref="paper", x=fx(hx), y=fy(hy),
        xanchor="center", yanchor=hanchor, showarrow=False,
        font=dict(family="Open Sans", size=94, color="black"),
    ))

# faint separator line above the TOTSOMC panel
layout["shapes"].append(dict(
    type="line", xref="paper", yref="paper",
    x0=fx(2135), x1=1.0, y0=fy(1308), y1=fy(1308),
    line=dict(color="#e6e6e6", width=2),
))

fig.update_layout(**layout)
fig.write_html("out.html")
